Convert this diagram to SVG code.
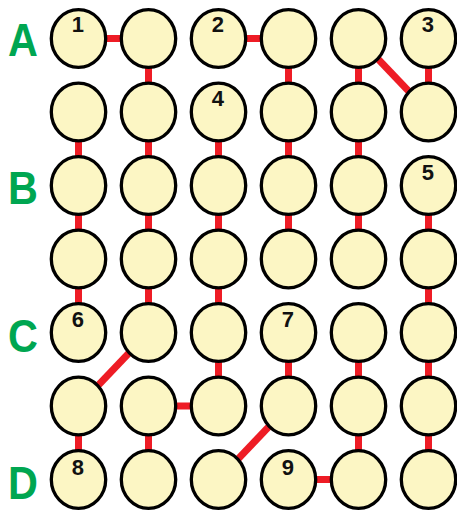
<svg xmlns="http://www.w3.org/2000/svg" width="457" height="511" viewBox="0 0 457 511">
<style>
.n{fill:#FCF6C4;stroke:#000;stroke-width:3.3}
.c{stroke:#EE1C25;stroke-width:7;fill:none}
.num{font-family:"Liberation Sans",Arial,sans-serif;font-weight:bold;font-size:22px;text-anchor:middle;fill:#111}
.lab{font-family:"Liberation Sans",Arial,sans-serif;font-weight:bold;font-size:46px;text-anchor:middle;fill:#00A651}
</style>
<rect width="457" height="511" fill="#fff"/>
<g id="labels">
<text class="lab" transform="translate(23,56) scale(0.9,1)">A</text>
<text class="lab" transform="translate(23,204) scale(0.9,1)">B</text>
<text class="lab" transform="translate(23,352) scale(0.9,1)">C</text>
<text class="lab" transform="translate(23,499) scale(0.9,1)">D</text>
</g>
<g id="connectors">
<line class="c" x1="78.5" y1="38.5" x2="148.5" y2="38.5"/>
<line class="c" x1="218.5" y1="38.5" x2="288.5" y2="38.5"/>
<line class="c" x1="148.5" y1="38.5" x2="148.5" y2="112"/>
<line class="c" x1="288.5" y1="38.5" x2="288.5" y2="112"/>
<line class="c" x1="358.5" y1="38.5" x2="358.5" y2="112"/>
<line class="c" x1="428.5" y1="38.5" x2="428.5" y2="112"/>
<line class="c" x1="358.5" y1="38.5" x2="428.5" y2="112"/>
<line class="c" x1="78.5" y1="112" x2="78.5" y2="185.5"/>
<line class="c" x1="148.5" y1="112" x2="148.5" y2="185.5"/>
<line class="c" x1="218.5" y1="112" x2="218.5" y2="185.5"/>
<line class="c" x1="288.5" y1="112" x2="288.5" y2="185.5"/>
<line class="c" x1="358.5" y1="112" x2="358.5" y2="185.5"/>
<line class="c" x1="78.5" y1="185.5" x2="78.5" y2="259"/>
<line class="c" x1="148.5" y1="185.5" x2="148.5" y2="259"/>
<line class="c" x1="218.5" y1="185.5" x2="218.5" y2="259"/>
<line class="c" x1="288.5" y1="185.5" x2="288.5" y2="259"/>
<line class="c" x1="358.5" y1="185.5" x2="358.5" y2="259"/>
<line class="c" x1="428.5" y1="185.5" x2="428.5" y2="259"/>
<line class="c" x1="78.5" y1="259" x2="78.5" y2="332.5"/>
<line class="c" x1="148.5" y1="259" x2="148.5" y2="332.5"/>
<line class="c" x1="218.5" y1="259" x2="218.5" y2="332.5"/>
<line class="c" x1="428.5" y1="259" x2="428.5" y2="332.5"/>
<line class="c" x1="148.5" y1="332.5" x2="78.5" y2="406"/>
<line class="c" x1="218.5" y1="332.5" x2="218.5" y2="406"/>
<line class="c" x1="288.5" y1="332.5" x2="288.5" y2="406"/>
<line class="c" x1="358.5" y1="332.5" x2="358.5" y2="406"/>
<line class="c" x1="428.5" y1="332.5" x2="428.5" y2="406"/>
<line class="c" x1="148.5" y1="406" x2="218.5" y2="406"/>
<line class="c" x1="78.5" y1="406" x2="78.5" y2="479.5"/>
<line class="c" x1="148.5" y1="406" x2="148.5" y2="479.5"/>
<line class="c" x1="288.5" y1="406" x2="218.5" y2="479.5"/>
<line class="c" x1="358.5" y1="406" x2="358.5" y2="479.5"/>
<line class="c" x1="428.5" y1="406" x2="428.5" y2="479.5"/>
<line class="c" x1="288.5" y1="479.5" x2="358.5" y2="479.5"/>
</g>
<g id="n-0-0"><ellipse class="n" cx="78.5" cy="38.5" rx="27.2" ry="28.8"/><text class="num" x="77.8" y="32">1</text></g>
<g id="n-1-0"><ellipse class="n" cx="148.5" cy="38.5" rx="27.2" ry="28.8"/></g>
<g id="n-2-0"><ellipse class="n" cx="218.5" cy="38.5" rx="27.2" ry="28.8"/><text class="num" x="217.8" y="32">2</text></g>
<g id="n-3-0"><ellipse class="n" cx="288.5" cy="38.5" rx="27.2" ry="28.8"/></g>
<g id="n-4-0"><ellipse class="n" cx="358.5" cy="38.5" rx="27.2" ry="28.8"/></g>
<g id="n-5-0"><ellipse class="n" cx="428.5" cy="38.5" rx="27.2" ry="28.8"/><text class="num" x="427.8" y="32">3</text></g>
<g id="n-0-1"><ellipse class="n" cx="78.5" cy="112" rx="27.2" ry="28.8"/></g>
<g id="n-1-1"><ellipse class="n" cx="148.5" cy="112" rx="27.2" ry="28.8"/></g>
<g id="n-2-1"><ellipse class="n" cx="218.5" cy="112" rx="27.2" ry="28.8"/><text class="num" x="217.8" y="106">4</text></g>
<g id="n-3-1"><ellipse class="n" cx="288.5" cy="112" rx="27.2" ry="28.8"/></g>
<g id="n-4-1"><ellipse class="n" cx="358.5" cy="112" rx="27.2" ry="28.8"/></g>
<g id="n-5-1"><ellipse class="n" cx="428.5" cy="112" rx="27.2" ry="28.8"/></g>
<g id="n-0-2"><ellipse class="n" cx="78.5" cy="185.5" rx="27.2" ry="28.8"/></g>
<g id="n-1-2"><ellipse class="n" cx="148.5" cy="185.5" rx="27.2" ry="28.8"/></g>
<g id="n-2-2"><ellipse class="n" cx="218.5" cy="185.5" rx="27.2" ry="28.8"/></g>
<g id="n-3-2"><ellipse class="n" cx="288.5" cy="185.5" rx="27.2" ry="28.8"/></g>
<g id="n-4-2"><ellipse class="n" cx="358.5" cy="185.5" rx="27.2" ry="28.8"/></g>
<g id="n-5-2"><ellipse class="n" cx="428.5" cy="185.5" rx="27.2" ry="28.8"/><text class="num" x="427.8" y="179.5">5</text></g>
<g id="n-0-3"><ellipse class="n" cx="78.5" cy="259" rx="27.2" ry="28.8"/></g>
<g id="n-1-3"><ellipse class="n" cx="148.5" cy="259" rx="27.2" ry="28.8"/></g>
<g id="n-2-3"><ellipse class="n" cx="218.5" cy="259" rx="27.2" ry="28.8"/></g>
<g id="n-3-3"><ellipse class="n" cx="288.5" cy="259" rx="27.2" ry="28.8"/></g>
<g id="n-4-3"><ellipse class="n" cx="358.5" cy="259" rx="27.2" ry="28.8"/></g>
<g id="n-5-3"><ellipse class="n" cx="428.5" cy="259" rx="27.2" ry="28.8"/></g>
<g id="n-0-4"><ellipse class="n" cx="78.5" cy="332.5" rx="27.2" ry="28.8"/><text class="num" x="77.8" y="327">6</text></g>
<g id="n-1-4"><ellipse class="n" cx="148.5" cy="332.5" rx="27.2" ry="28.8"/></g>
<g id="n-2-4"><ellipse class="n" cx="218.5" cy="332.5" rx="27.2" ry="28.8"/></g>
<g id="n-3-4"><ellipse class="n" cx="288.5" cy="332.5" rx="27.2" ry="28.8"/><text class="num" x="287.8" y="327">7</text></g>
<g id="n-4-4"><ellipse class="n" cx="358.5" cy="332.5" rx="27.2" ry="28.8"/></g>
<g id="n-5-4"><ellipse class="n" cx="428.5" cy="332.5" rx="27.2" ry="28.8"/></g>
<g id="n-0-5"><ellipse class="n" cx="78.5" cy="406" rx="27.2" ry="28.8"/></g>
<g id="n-1-5"><ellipse class="n" cx="148.5" cy="406" rx="27.2" ry="28.8"/></g>
<g id="n-2-5"><ellipse class="n" cx="218.5" cy="406" rx="27.2" ry="28.8"/></g>
<g id="n-3-5"><ellipse class="n" cx="288.5" cy="406" rx="27.2" ry="28.8"/></g>
<g id="n-4-5"><ellipse class="n" cx="358.5" cy="406" rx="27.2" ry="28.8"/></g>
<g id="n-5-5"><ellipse class="n" cx="428.5" cy="406" rx="27.2" ry="28.8"/></g>
<g id="n-0-6"><ellipse class="n" cx="78.5" cy="479.5" rx="27.2" ry="28.8"/><text class="num" x="77.8" y="474.5">8</text></g>
<g id="n-1-6"><ellipse class="n" cx="148.5" cy="479.5" rx="27.2" ry="28.8"/></g>
<g id="n-2-6"><ellipse class="n" cx="218.5" cy="479.5" rx="27.2" ry="28.8"/></g>
<g id="n-3-6"><ellipse class="n" cx="288.5" cy="479.5" rx="27.2" ry="28.8"/><text class="num" x="287.8" y="474.5">9</text></g>
<g id="n-4-6"><ellipse class="n" cx="358.5" cy="479.5" rx="27.2" ry="28.8"/></g>
<g id="n-5-6"><ellipse class="n" cx="428.5" cy="479.5" rx="27.2" ry="28.8"/></g>
</svg>
